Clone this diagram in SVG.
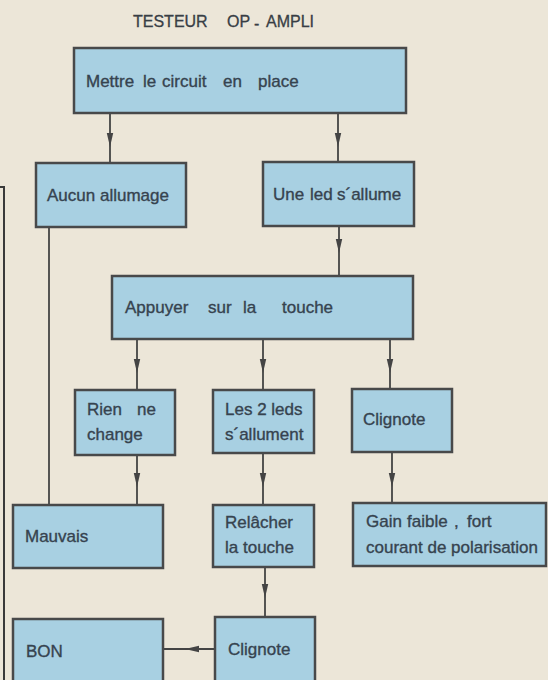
<svg xmlns="http://www.w3.org/2000/svg" width="548" height="680" viewBox="0 0 548 680">
<style>
.bx{fill:#a8d0e2;stroke:#48494a;stroke-width:2.5}
.t{font-family:"Liberation Sans",Arial,sans-serif;font-size:17px;fill:#36434f;stroke:#36434f;stroke-width:0.35}
.ttl{font-family:"Liberation Sans",Arial,sans-serif;font-size:16px;fill:#383e45;stroke:#383e45;stroke-width:0.3}
.c{fill:none;stroke:#444;stroke-width:1.8}
</style>
<defs>
<marker id="ah" markerUnits="userSpaceOnUse" markerWidth="16" markerHeight="10" refX="14" refY="4" orient="auto">
<path d="M0,0.8 L14,4 L0,7.2 Z" fill="#444"/>
</marker>
</defs>
<rect width="548" height="680" fill="#ece6d8"/>
<text class="ttl"><tspan x="133" y="27">TESTEUR</tspan><tspan x="227" y="27">OP</tspan><tspan x="254" y="29">-</tspan><tspan x="266" y="27">AMPLI</tspan></text>
<path d="M0,187 H4 V680" fill="none" stroke="#3a3a3a" stroke-width="2"/>
<g id="connectors">
<path class="c" d="M110,113 V147 V163" marker-mid="url(#ah)"/>
<path class="c" d="M338,113 V147 V162" marker-mid="url(#ah)"/>
<path class="c" d="M49,227 V505"/>
<path class="c" d="M339,226 V253 V276" marker-mid="url(#ah)"/>
<path class="c" d="M137,339 V373 V390" marker-mid="url(#ah)"/>
<path class="c" d="M263,339 V373 V390" marker-mid="url(#ah)"/>
<path class="c" d="M390,339 V373 V389" marker-mid="url(#ah)"/>
<path class="c" d="M137,455 V487 V505" marker-mid="url(#ah)"/>
<path class="c" d="M263,453 V487 V505" marker-mid="url(#ah)"/>
<path class="c" d="M392,452 V487 V503" marker-mid="url(#ah)"/>
<path class="c" d="M265,567 V598 V617" marker-mid="url(#ah)"/>
<path class="c" d="M215,649 H185 H163" marker-mid="url(#ah)"/>
</g>
<g id="n1"><rect class="bx" x="74" y="48" width="332" height="65"/>
<text class="t" y="87"><tspan x="86">Mettre</tspan><tspan x="143">le</tspan><tspan x="162">circuit</tspan><tspan x="223">en</tspan><tspan x="258">place</tspan></text></g>
<g id="n2"><rect class="bx" x="36" y="163" width="150" height="64"/>
<text class="t" x="47" y="201">Aucun allumage</text></g>
<g id="n3"><rect class="bx" x="263" y="162" width="151" height="64"/>
<text class="t" y="200"><tspan x="273">Une</tspan><tspan x="310">led</tspan><tspan x="337">s´allume</tspan></text></g>
<g id="n4"><rect class="bx" x="112" y="276" width="301" height="63"/>
<text class="t" y="313"><tspan x="125">Appuyer</tspan><tspan x="208">sur</tspan><tspan x="243">la</tspan><tspan x="282">touche</tspan></text></g>
<g id="n5"><rect class="bx" x="75" y="390" width="100" height="65"/>
<text class="t"><tspan x="87" y="415">Rien</tspan><tspan x="137" y="415">ne</tspan><tspan x="87" y="440">change</tspan></text></g>
<g id="n6"><rect class="bx" x="213" y="390" width="101" height="63"/>
<text class="t"><tspan x="225" y="415">Les 2 leds</tspan><tspan x="225" y="440">s´allument</tspan></text></g>
<g id="n7"><rect class="bx" x="352" y="389" width="100" height="63"/>
<text class="t" x="363" y="425">Clignote</text></g>
<g id="n8"><rect class="bx" x="13" y="505" width="150" height="63"/>
<text class="t" x="25" y="542">Mauvais</text></g>
<g id="n9"><rect class="bx" x="213" y="505" width="101" height="62"/>
<text class="t"><tspan x="225" y="528">Relâcher</tspan><tspan x="225" y="553">la touche</tspan></text></g>
<g id="n10"><rect class="bx" x="353" y="503" width="193" height="63"/>
<text class="t"><tspan x="366" y="527">Gain</tspan><tspan x="407" y="527">faible</tspan><tspan x="454" y="527">,</tspan><tspan x="467" y="527">fort</tspan><tspan x="366" y="553">courant de polarisation</tspan></text></g>
<g id="n11"><rect class="bx" x="215" y="617" width="100" height="75"/>
<text class="t" x="228" y="655">Clignote</text></g>
<g id="n12"><rect class="bx" x="13" y="619" width="150" height="75"/>
<text class="t" x="26" y="657">BON</text></g>
</svg>
